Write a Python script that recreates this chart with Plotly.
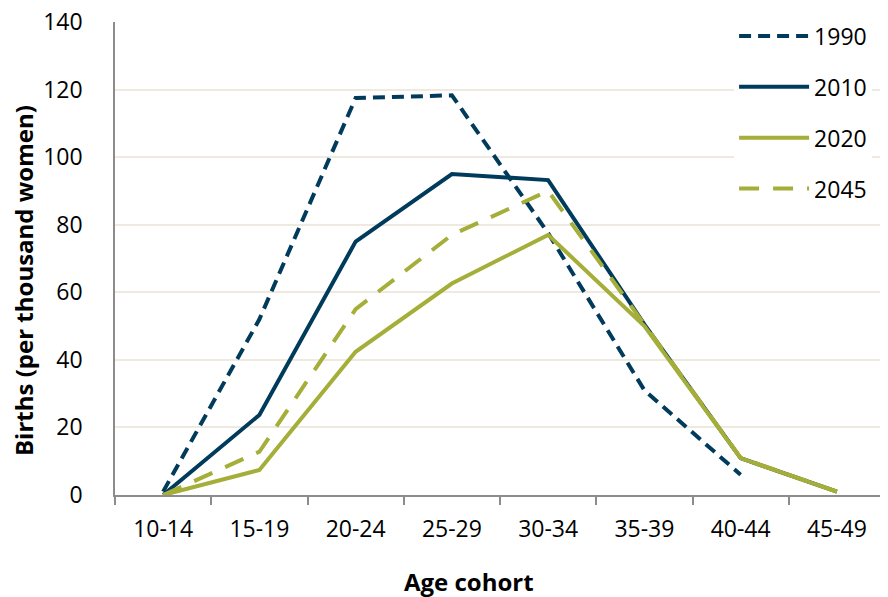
import plotly.graph_objects as go

categories = ["10-14", "15-19", "20-24", "25-29", "30-34", "35-39", "40-44", "45-49"]
births_1990 = [1, 52, 117.5, 118.3, 77.5, 31, 6, None]
births_2010 = [0, 23.7, 75, 95, 93.2, 50.5, 10.9, 1]
births_2020 = [0, 7.4, 42.4, 62.6, 77, 50, 10.9, 1]
births_2045 = [0, 12.8, 55, 77, 90, 50.5, 11, 1]
y_ticks = [0, 20, 40, 60, 80, 100, 120, 140]

NAVY = "#003B5C"
OLIVE = "#A4AE39"
FONT = "Open Sans"

series = [
    ("1990", births_1990, NAVY, "12px,7px"),
    ("2010", births_2010, NAVY, "solid"),
    ("2020", births_2020, OLIVE, "solid"),
    ("2045", births_2045, OLIVE, "20px,14px"),
]

fig = go.Figure()
for name, vals, color, dash in series:
    fig.add_trace(go.Scatter(
        x=categories, y=vals, name=name, mode="lines",
        line=dict(color=color, width=4, dash=dash),
        legendgroup=name, connectgaps=False,
    ))

# the page body adds an 8px margin, so the figure is 8px smaller than the window
fig.update_layout(
    width=880, height=589,
    margin=dict(l=107, r=3, t=14, b=102, autoexpand=False),
    paper_bgcolor="white", plot_bgcolor="white",
    font=dict(family=FONT, size=23, color="#000000"),
    showlegend=True,
    legend=dict(
        x=0.804, xanchor="left", y=1.016, yanchor="top",
        bgcolor="rgba(255,255,255,1)", font=dict(size=23, family=FONT),
        tracegroupgap=18, itemwidth=70,
    ),
    xaxis=dict(
        type="category", range=[-0.5, 7.5], automargin=False,
        showgrid=False, showline=True, linecolor="#8C8C8C", linewidth=1.5,
        ticks="outside", tickson="boundaries", ticklen=8, tickcolor="#8C8C8C", tickwidth=1.5,
        ticklabelstandoff=13,
    ),
    yaxis=dict(
        range=[0, 140], tickvals=y_ticks, automargin=False,
        showgrid=True, gridcolor="#EEEAE0", gridwidth=1.5,
        showline=True, linecolor="#8C8C8C", linewidth=1.5,
        ticks="", ticklabelstandoff=26, zeroline=False,
        ticklabeloverflow="allow",
    ),
    annotations=[
        dict(text="<b>Births (per thousand women)</b>", textangle=-90,
             xref="paper", yref="paper", x=(23 - 115) / 770, y=(495 - 281) / 473,
             xanchor="center", yanchor="middle", showarrow=False,
             font=dict(size=24, family=FONT)),
        dict(text="<b>Age cohort</b>",
             xref="paper", yref="paper", x=(469 - 115) / 770, y=-(581 - 495) / 473,
             xanchor="center", yanchor="middle", showarrow=False,
             font=dict(size=24, family=FONT)),
    ],
)

fig.write_html("out.html")
